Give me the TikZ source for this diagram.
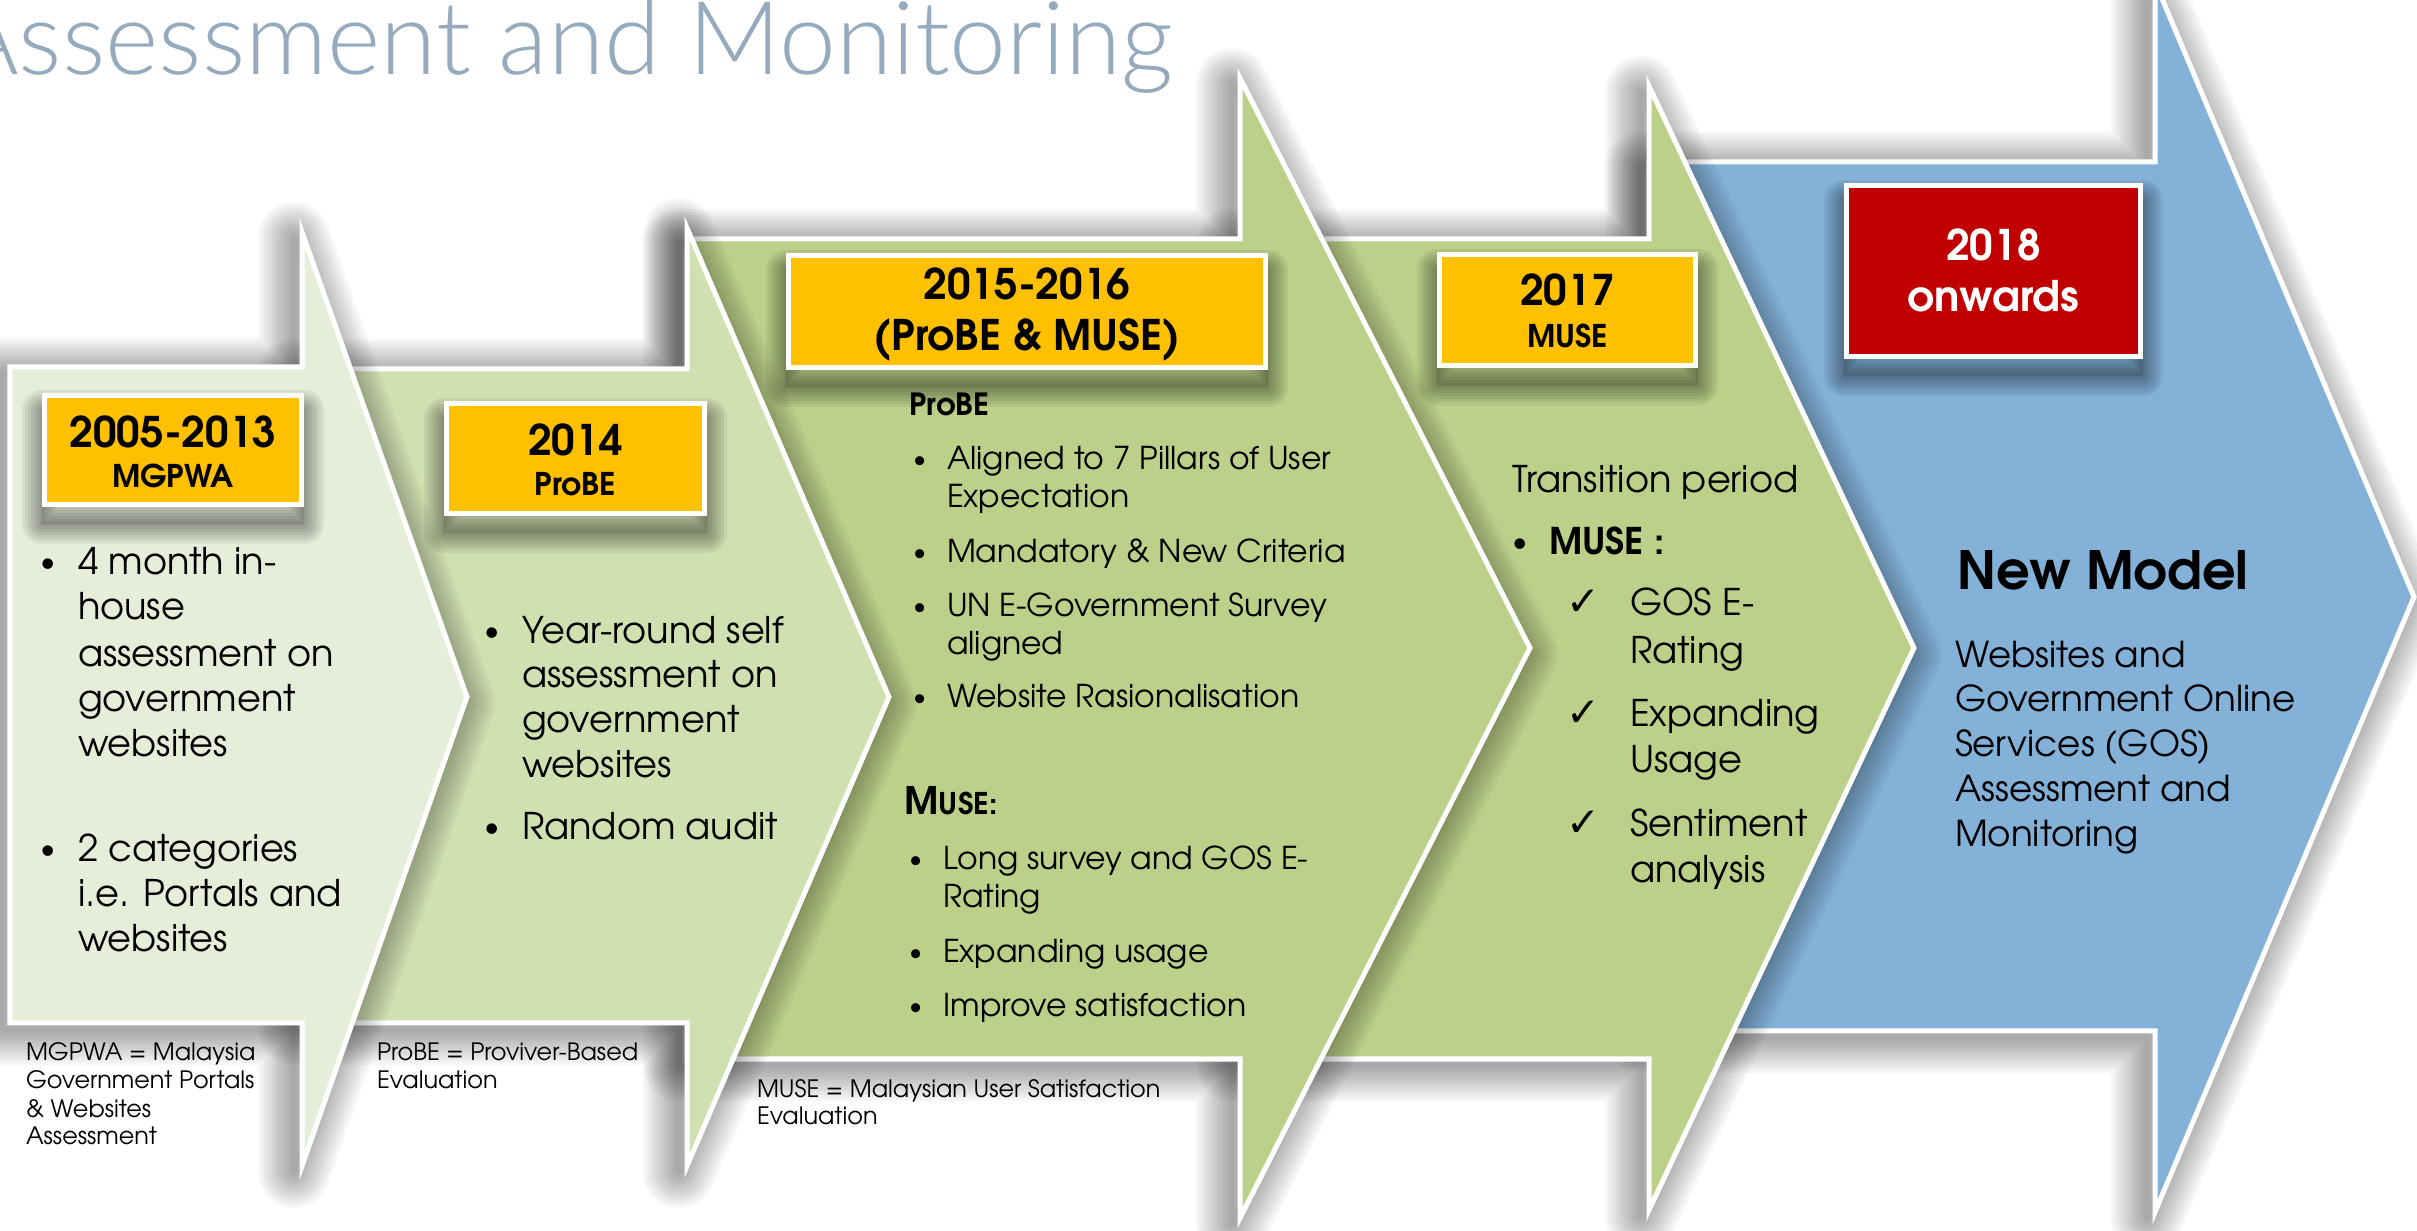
\documentclass[tikz,border=0pt]{standalone}
\usepackage{fontspec}
\IfFontExistsTF{TeX Gyre Adventor}{\setmainfont{TeX Gyre Adventor}}{\setmainfont{Poppins}}
\newfontfamily\symfont{DejaVu Sans}
\IfFontExistsTF{Lato Light}{\newfontfamily\titlefont{Lato Light}}{\newfontfamily\titlefont{Lato}}
\definecolor{aone}{RGB}{230,238,217}
\definecolor{atwo}{RGB}{209,224,177}
\definecolor{athree}{RGB}{188,208,138}
\definecolor{afive}{RGB}{131,177,216}
\definecolor{ybox}{RGB}{255,192,0}
\definecolor{rbox}{RGB}{192,0,0}
\definecolor{titlec}{RGB}{150,170,190}
\newcommand\DrawArrow[9]{%
  \foreach \w in {0.72cm,0.66cm,0.6cm,0.54cm,0.48cm,0.42cm,0.36cm,0.3cm,0.24cm,0.18cm,0.12cm,0.06cm}{%
    \draw[black, opacity=0.03, line width=\w, line join=round, xshift=-0.08cm, yshift=-0.06cm]
      (#1,#4) -- (#2,#4) -- (#2,#6) -- (#3,#8) -- (#2,#7) -- (#2,#5) -- (#1,#5) -- cycle;}
  \fill[#9] (#1,#4) -- (#2,#4) -- (#2,#6) -- (#3,#8) -- (#2,#7) -- (#2,#5) -- (#1,#5) -- cycle;
  \draw[white, line width=0.05cm, line join=miter]
      (#1,#4) -- (#2,#4) -- (#2,#6) -- (#3,#8) -- (#2,#7) -- (#2,#5) -- (#1,#5) -- cycle;
}
\newcommand\BoxShadow[4]{%
  \foreach \w in {0.4cm,0.34cm,0.28cm,0.22cm,0.16cm,0.1cm,0.04cm}{%
    \draw[black, opacity=0.06, line width=\w, line join=round, yshift=-0.17cm] (#1,#2) rectangle (#3,#4);}
  \fill[black, opacity=0.1, yshift=-0.17cm] (#1,#2) rectangle (#3,#4);
}
\tikzset{
  txt/.style={anchor=base west, inner sep=0pt, outer sep=0pt, font=\fontsize{10.45pt}{12pt}\selectfont},
  txts/.style={anchor=base west, inner sep=0pt, outer sep=0pt, font=\fontsize{8.95pt}{10pt}\selectfont},
  txtd/.style={anchor=base west, inner sep=0pt, outer sep=0pt, font=\fontsize{10.15pt}{12pt}\selectfont},
  foot/.style={anchor=base west, inner sep=0pt, outer sep=0pt, font=\fontsize{6.8pt}{8pt}\selectfont},
  bul/.style={anchor=base west, inner sep=0pt, outer sep=0pt, font=\fontsize{8.4pt}{10pt}\selectfont},
  buls/.style={anchor=base west, inner sep=0pt, outer sep=0pt, font=\fontsize{7.2pt}{9pt}\selectfont},
  boxy/.style={fill=ybox, draw=white, line width=0.05cm, inner sep=0pt},
  boxr/.style={fill=rbox, draw=white, line width=0.05cm, inner sep=0pt},
  bigl/.style={anchor=base, inner sep=0pt, font=\fontsize{12pt}{14pt}\selectfont\bfseries},
  subl/.style={anchor=base, inner sep=0pt, font=\fontsize{8.9pt}{10pt}\selectfont\bfseries},
  chk/.style={anchor=base west, inner sep=0pt, font=\symfont\fontsize{11.5pt}{13pt}\selectfont},
}
\begin{document}
\begin{tikzpicture}[x=0.01cm, y=-0.01cm]
\useasboundingbox (0,0) rectangle (2417,1231);
\fill[white] (0,0) rectangle (2417,1231);

% title
\node[anchor=base east, inner sep=0pt, text=titlec, font=\titlefont\fontsize{29pt}{32pt}\selectfont] (title) at (1174,75) {Assessment and Monitoring};

% arrows, back to front
\DrawArrow{1649}{2155}{2414}{162}{1031}{-18}{1212}{597}{afive}
\DrawArrow{1240}{1649}{1914}{239}{1059}{86}{1210}{648}{athree}
\DrawArrow{687}{1240}{1530}{239}{1059}{78}{1218}{648}{athree}
\DrawArrow{302}{687}{889}{369}{1023}{228}{1166}{697}{atwo}
\DrawArrow{10}{302}{467}{367}{1023}{232}{1166}{697}{aone}

% boxes
\BoxShadow{42}{393}{304}{507}
\node[boxy, minimum width=2.57cm, minimum height=1.09cm] (b1) at (173,450) {};
\BoxShadow{444}{401}{707}{516}
\node[boxy, minimum width=2.58cm, minimum height=1.10cm] (b2) at (575.5,458.5) {};
\BoxShadow{786}{253}{1268}{370}
\node[boxy, minimum width=4.77cm, minimum height=1.12cm] (b3) at (1027,311.5) {};
\BoxShadow{1437}{252}{1698}{368}
\node[boxy, minimum width=2.56cm, minimum height=1.11cm] (b4) at (1567.5,310) {};
\BoxShadow{1844}{183}{2143}{359}
\node[boxr, minimum width=2.94cm, minimum height=1.71cm] (b5) at (1993.5,271) {};

\node[bigl] (b1a) at (173,448) {2005-2013};
\node[subl] (b1b) at (173,488) {MGPWA};
\node[bigl] (b2a) at (575.5,456) {2014};
\node[subl] (b2b) at (575.5,496) {ProBE};
\node[bigl] (b3a) at (1027,300) {2015-2016};
\node[bigl] (b3b) at (1027,351) {(ProBE \& MUSE)};
\node[bigl] (b4a) at (1567.5,306) {2017};
\node[subl] (b4b) at (1567.5,348) {MUSE};
\node[bigl, text=white] (b5a) at (1993.5,261) {2018};
\node[bigl, text=white] (b5b) at (1993.5,312) {onwards};

% arrow 1 text
\node[bul] (p1) at (41,572) {•};
\node[txt] (t1a) at (78,575) {4 month in-};
\node[txt] (t1b) at (78,620) {house};
\node[txt] (t1c) at (78,667) {assessment on};
\node[txt] (t1d) at (78,712) {government};
\node[txt] (t1e) at (78,757) {websites};
\node[bul] (p2) at (41,859) {•};
\node[txt] (t1f) at (78,862) {2 categories};
\node[txt] (t1g) at (78,907) {i.e. Portals and};
\node[txt] (t1h) at (78,952) {websites};

% arrow 2 text
\node[bul] (p3) at (484,641) {•};
\node[txt] (t2a) at (522,644) {Year-round self};
\node[txt] (t2b) at (522,688) {assessment on};
\node[txt] (t2c) at (522,733) {government};
\node[txt] (t2d) at (522,778) {websites};
\node[bul] (p4) at (484,837) {•};
\node[txt] (t2e) at (522,840) {Random audit};

% arrow 3 text
\node[anchor=base west, inner sep=0pt, font=\fontsize{8.7pt}{10pt}\selectfont\bfseries] (h3a) at (909,416) {ProBE};
\node[buls] (p5) at (913,468) {•};
\node[txts] (t3a) at (947,470) {Aligned to 7 Pillars of User};
\node[txts] (t3b) at (947,508) {Expectation};
\node[buls] (p6) at (913,561) {•};
\node[txts] (t3c) at (947,563) {Mandatory \& New Criteria};
\node[buls] (p7) at (913,615) {•};
\node[txts] (t3d) at (947,617) {UN E-Government Survey};
\node[txts] (t3e) at (947,655) {aligned};
\node[buls] (p8) at (913,706) {•};
\node[txts] (t3f) at (947,708) {Website Rasionalisation};
\node[anchor=base west, inner sep=0pt, font=\bfseries] (h3b) at (904,815) {{\fontsize{10.8pt}{12pt}\selectfont M}{\fontsize{8.5pt}{10pt}\selectfont USE:}};
\node[buls] (p9) at (909,868) {•};
\node[txts] (t3g) at (943,870) {Long survey and GOS E-};
\node[txts] (t3h) at (943,908) {Rating};
\node[buls] (p10) at (909,961) {•};
\node[txts] (t3i) at (943,963) {Expanding usage};
\node[buls] (p11) at (909,1015) {•};
\node[txts] (t3j) at (943,1017) {Improve satisfaction};

% arrow 4 text
\node[txt] (t4a) at (1512,493) {Transition period};
\node[bul] (p12) at (1512,552) {•};
\node[txt, font=\fontsize{10.45pt}{12pt}\selectfont\bfseries] (t4b) at (1549,555) {MUSE :};
\node[chk] (c1) at (1566,616) {✓};
\node[txt] (t4c) at (1630,616) {GOS E-};
\node[txt] (t4d) at (1630,664) {Rating};
\node[chk] (c2) at (1566,727) {✓};
\node[txt] (t4e) at (1630,727) {Expanding};
\node[txt] (t4f) at (1630,773) {Usage};
\node[chk] (c3) at (1566,837) {✓};
\node[txt] (t4g) at (1630,837) {Sentiment};
\node[txt] (t4h) at (1630,883) {analysis};

% arrow 5 text
\node[anchor=base west, inner sep=0pt, font=\fontsize{15pt}{17pt}\selectfont\bfseries] (t5a) at (1957,590) {New Model};
\node[txtd] (t5b) at (1955,668) {Websites and};
\node[txtd] (t5c) at (1955,712) {Government Online};
\node[txtd] (t5d) at (1955,757) {Services (GOS)};
\node[txtd] (t5e) at (1955,802) {Assessment and};
\node[txtd] (t5f) at (1955,847) {Monitoring};

% footnotes
\node[foot] (f1a) at (26,1061) {MGPWA = Malaysia};
\node[foot] (f1b) at (26,1089) {Government Portals};
\node[foot] (f1c) at (26,1117) {\& Websites};
\node[foot] (f1d) at (26,1145) {Assessment};
\node[foot] (f2a) at (377,1061) {ProBE = Proviver-Based};
\node[foot] (f2b) at (377,1089) {Evaluation};
\node[foot] (f3a) at (757,1097) {MUSE = Malaysian User Satisfaction};
\node[foot] (f3b) at (757,1125) {Evaluation};
\end{tikzpicture}
\end{document}
